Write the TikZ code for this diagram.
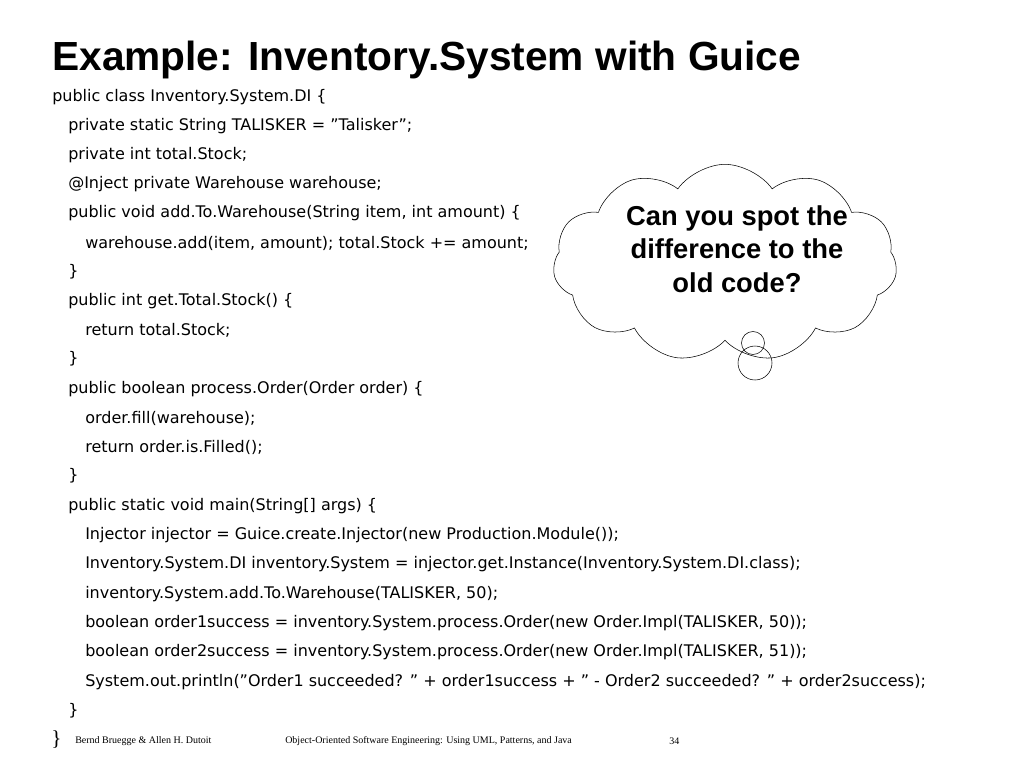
\documentclass[tikz,border=0pt]{standalone}
\usepackage{fontspec}
\setmainfont{DejaVu Sans}
\newfontfamily\titlefont{Liberation Sans}
\newfontfamily\footfont{Liberation Serif}
\usetikzlibrary{shapes.symbols}

\newcommand{\dq}{\symbol{34}}
\tikzset{
    code/.style={anchor=west, inner sep=0pt, font=\fontsize{12}{13}\selectfont},
    foot/.style={anchor=west, inner sep=0pt, font=\footfont\fontsize{7.5}{8}\selectfont},
}

\begin{document}
\begin{tikzpicture}[x=0.75pt, y=-0.75pt]
    \useasboundingbox (0,0) rectangle (1024,768);
    \node [anchor=west, inner sep=0pt, font=\titlefont\bfseries\fontsize{30.5}{32}\selectfont] (title) at (52,60) {Example: Inventory.System with Guice};

    \node [code] (l1) at (52,97) {public class Inventory.System.DI \{};
    \node [code] (l2) at (68,126) {private static String TALISKER = \dq Talisker\dq;};
    \node [code] (l3) at (68,155) {private int total.Stock;};
    \node [code] (l4) at (68,184) {@Inject private Warehouse warehouse;};
    \node [code] (l5) at (68,213) {public void add.To.Warehouse(String item, int amount) \{};
    \node [code] (l6) at (85,243) {warehouse.add(item, amount); total.Stock += amount;};
    \node [code] (l7) at (68,272) {\}};
    \node [code] (l8) at (68,301) {public int get.Total.Stock() \{};
    \node [code] (l9) at (85,330) {return total.Stock;};
    \node [code] (l10) at (68,359) {\}};
    \node [code] (l11) at (68,389) {public boolean process.Order(Order order) \{};
    \node [code] (l12) at (85,418) {order.fill(warehouse);};
    \node [code] (l13) at (85,447) {return order.is.Filled();};
    \node [code] (l14) at (68,476) {\}};
    \node [code] (l15) at (68,506) {public static void main(String[] args) \{};
    \node [code] (l16) at (85,535) {Injector injector = Guice.create.Injector(new Production.Module());};
    \node [code] (l17) at (85,564) {Inventory.System.DI inventory.System = injector.get.Instance(Inventory.System.DI.class);};
    \node [code] (l18) at (85,594) {inventory.System.add.To.Warehouse(TALISKER, 50);};
    \node [code] (l19) at (85,623) {boolean order1success = inventory.System.process.Order(new Order.Impl(TALISKER, 50));};
    \node [code] (l20) at (85,652) {boolean order2success = inventory.System.process.Order(new Order.Impl(TALISKER, 51));};
    \node [code] (l21) at (85,682) {System.out.println(\dq Order1 succeeded? \dq{} + order1success + \dq{} - Order2 succeeded? \dq{} + order2success);};
    \node [code] (l22) at (68,711) {\}};

    % thought bubble
    \node [cloud, draw, cloud puffs=11, cloud puff arc=110, aspect=1.7,
           minimum width=258pt, minimum height=148pt, inner sep=0pt] (bubble) at (725,263) {};
    \node [align=center, font=\titlefont\bfseries\fontsize{20.5}{25}\selectfont] (question) at (737,249)
        {Can you spot the\\difference to the\\old code?};
    \draw (753,343) circle (11.5);
    \draw (755,363) circle (17);

    % footer
    \node [anchor=west, inner sep=0pt, font=\footfont\fontsize{16}{16}\selectfont] (brace) at (51,740) {\}};
    \node [foot] (authors) at (75,741) {Bernd Bruegge \& Allen H. Dutoit};
    \node [foot] (book) at (285,741) {Object-Oriented Software Engineering: Using UML, Patterns, and Java};
    \node [foot] (page) at (669,741) {34};
\end{tikzpicture}
\end{document}
